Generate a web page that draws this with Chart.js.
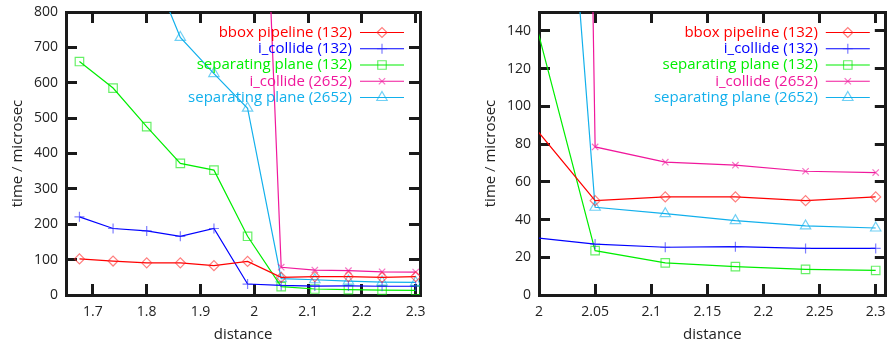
<!DOCTYPE html>
<html>
<head>
<meta charset="utf-8">
<script src="https://cdn.jsdelivr.net/npm/chart.js@4.4.1/dist/chart.umd.min.js"></script>
<style>
  html, body { margin: 0; padding: 0; background: #fff; }
  .panel { position: absolute; top: 0; height: 347px; }
  #left { left: 0; width: 446px; }
  #right { left: 446px; width: 447px; }
</style>
</head>
<body>
<div class="panel" id="left"><canvas id="chartLeft" width="446" height="347"></canvas></div>
<div class="panel" id="right"><canvas id="chartRight" width="447" height="347"></canvas></div>
<script>
// distance values (x)
const distances = [1.675, 1.7375, 1.8, 1.8625, 1.925, 1.9875, 2.05, 2.1125, 2.175, 2.2375, 2.3];

// time / microsec (null = off the chart)
const bboxPipeline132 = [102, 96, 91, 91, 83, 95, 50, 52, 52, 50, 52];
const iCollide132 = [221, 188, 181, 166, 188, 31, 27, 25.3, 25.6, 24.7, 24.7];
const sepPlane132 = [660, 585, 476, 372, 353, 166, 23.5, 17, 15, 13.6, 13];
const iCollide2652 = [null, null, null, null, null, 2450, 78.5, 70.4, 68.8, 65.6, 64.9];
const sepPlane2652 = [null, null, 960, 728, 626, 528, 46.5, 43.1, 39.4, 36.6, 35.5];

const seriesNames = ["bbox pipeline (132)", "i_collide (132)", "separating plane (132)", "i_collide (2652)", "separating plane (2652)"];

// tick labels
const leftXTicks = [1.7, 1.8, 1.9, 2, 2.1, 2.2, 2.3];
const leftYTicks = [0, 100, 200, 300, 400, 500, 600, 700, 800];
const rightXTicks = [2, 2.05, 2.1, 2.15, 2.2, 2.25, 2.3];
const rightYTicks = [0, 20, 40, 60, 80, 100, 120, 140];

const FONT = "'Open Sans', 'DejaVu Sans', sans-serif";
const INK = "#1a1a1a";

const styles = [
  { color: "#ff0000", marker: "rgba(255,40,40,0.6)", pointStyle: "rectRot", radius: 5 },
  { color: "#0000ff", marker: "rgba(40,40,255,0.6)", pointStyle: "cross", radius: 5 },
  { color: "#00ee00", marker: "rgba(0,230,0,0.6)", pointStyle: "rect", radius: 6 },
  { color: "#f0189c", marker: "rgba(240,24,156,0.6)", pointStyle: "crossRot", radius: 4.5 },
  { color: "#12b0ec", marker: "rgba(18,176,236,0.6)", pointStyle: "triangle", radius: 6 }
];

function makeDatasets() {
  const all = [bboxPipeline132, iCollide132, sepPlane132, iCollide2652, sepPlane2652];
  return all.map((vals, i) => ({
    label: seriesNames[i],
    data: distances.map((d, k) => ({ x: d, y: vals[k] })),
    borderColor: styles[i].color,
    borderWidth: 1.2,
    pointStyle: styles[i].pointStyle,
    pointRadius: styles[i].radius,
    pointBorderColor: styles[i].marker,
    pointBackgroundColor: "rgba(0,0,0,0)",
    pointBorderWidth: 1.2,
    fill: false,
    tension: 0,
    spanGaps: false
  }));
}

// key in the top right corner: text, then line sample with marker
const keyPlugin = {
  id: "gnuplotKey",
  afterDraw(chart) {
    const ctx = chart.ctx;
    const a = chart.chartArea;
    ctx.save();
    ctx.font = "15px " + FONT;
    ctx.textAlign = "right";
    ctx.textBaseline = "middle";
    chart.data.datasets.forEach((ds, i) => {
      const y = a.top + 20.5 + i * 16.25;
      ctx.fillStyle = styles[i].color;
      ctx.fillText(ds.label, a.right - 68, y);
      ctx.strokeStyle = styles[i].color;
      ctx.lineWidth = 1.2;
      ctx.beginPath();
      ctx.moveTo(a.right - 60, y);
      ctx.lineTo(a.right - 16, y);
      ctx.stroke();
      if (Chart.helpers && Chart.helpers.drawPoint) {
        ctx.strokeStyle = styles[i].marker;
        ctx.fillStyle = "rgba(0,0,0,0)";
        ctx.lineWidth = 1.2;
        Chart.helpers.drawPoint(ctx, { pointStyle: styles[i].pointStyle, radius: styles[i].radius, rotation: 0, borderWidth: 1.2 }, a.right - 38, y);
      }
    });
    ctx.restore();
  }
};

// inward tick marks (negative length) and a solid border, gnuplot style
const gridStyle = { display: true, drawOnChartArea: false, drawTicks: true, tickLength: -11, tickWidth: 3, tickColor: INK };
const borderStyle = { display: true, color: INK, width: 3 };

function makeChart(id, xMin, xMax, yMax, xTicks, yTicks, rightPad, yWidth, titlePad) {
  const setX = s => { s.ticks = xTicks.map(v => ({ value: v })); };
  const setY = s => { s.ticks = yTicks.map(v => ({ value: v })); };
  const fixH = h => s => { s.height = h; s.paddingLeft = 0; s.paddingRight = 0; };
  const fixW = w => s => { s.width = w; s.paddingTop = 0; s.paddingBottom = 0; };
  return new Chart(document.getElementById(id), {
    type: "line",
    data: { datasets: makeDatasets() },
    plugins: [keyPlugin],
    options: {
      responsive: false,
      animation: false,
      layout: { padding: { top: 1, right: rightPad, left: 0, bottom: 0 } },
      plugins: { legend: { display: false }, tooltip: { enabled: false } },
      scales: {
        x: {
          type: "linear",
          position: "bottom",
          min: xMin,
          max: xMax,
          afterBuildTicks: setX,
          afterFit: fixH(52),
          grid: gridStyle,
          border: borderStyle,
          ticks: {
            padding: 20,
            color: "#222",
            font: { family: FONT, size: 14 },
            maxRotation: 0,
            autoSkip: false,
            callback: v => String(v)
          },
          title: { display: true, text: "distance", color: "#222", font: { family: FONT, size: 15 }, padding: { top: 0, bottom: 3 } }
        },
        y: {
          position: "left",
          min: 0,
          max: yMax,
          afterBuildTicks: setY,
          afterFit: fixW(yWidth),
          grid: gridStyle,
          border: borderStyle,
          ticks: {
            padding: 19,
            color: "#222",
            font: { family: FONT, size: 14 },
            autoSkip: false,
            callback: v => String(v)
          },
          title: { display: true, text: "time / microsec", color: "#222", font: { family: FONT, size: 15 }, padding: { top: titlePad, bottom: 0 } }
        },
        x2: {
          type: "linear",
          position: "top",
          min: xMin,
          max: xMax,
          afterBuildTicks: setX,
          afterFit: fixH(11),
          grid: gridStyle,
          border: borderStyle,
          ticks: { display: false }
        },
        y2: {
          position: "right",
          min: 0,
          max: yMax,
          afterBuildTicks: setY,
          afterFit: fixW(1),
          grid: gridStyle,
          border: borderStyle,
          ticks: { display: false }
        }
      }
    }
  });
}

makeChart("chartLeft", 1.65, 2.308, 800, leftXTicks, leftYTicks, 25, 66, 9);
makeChart("chartRight", 2.0, 2.309, 150, rightXTicks, rightYTicks, 0, 93, 36);
</script>
</body>
</html>
